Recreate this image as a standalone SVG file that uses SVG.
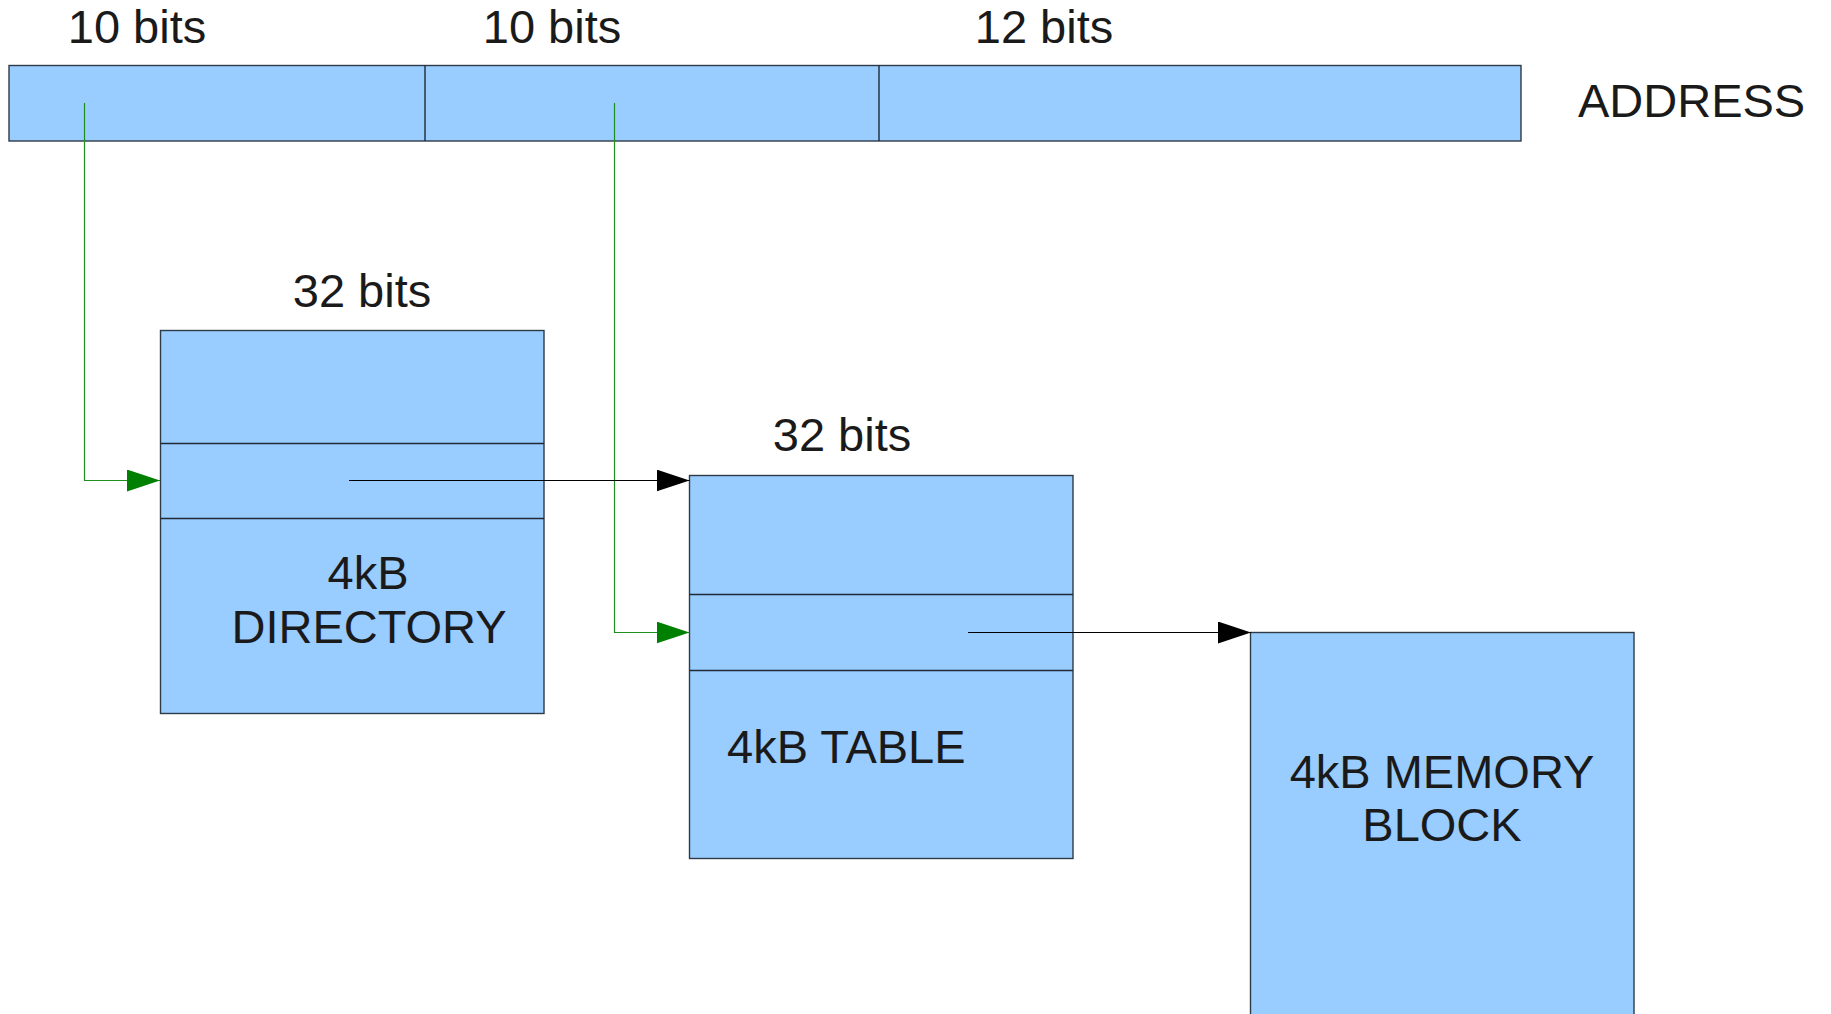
<svg xmlns="http://www.w3.org/2000/svg" width="1831" height="1014" viewBox="0 0 1831 1014">
<style>
  .box { fill: #99ccff; stroke: #2e3a46; stroke-width: 1.4; }
  .div { fill: none; stroke: #1e2a36; stroke-width: 1.4; }
  .lbl { font-family: "Liberation Sans", Arial, sans-serif; font-size: 47px; fill: #1a1a1a; }
  .mid { text-anchor: middle; }
  .g { fill: none; stroke: #1f8f1f; stroke-width: 1.2; }
  .k { fill: none; stroke: #000000; stroke-width: 1.2; }
</style>
<defs>
  <marker id="ag" markerUnits="userSpaceOnUse" markerWidth="34" markerHeight="23" refX="33" refY="11" orient="auto">
    <path d="M0,0 L33,11 L0,22 z" fill="#008000"/>
  </marker>
  <marker id="ak" markerUnits="userSpaceOnUse" markerWidth="34" markerHeight="23" refX="33" refY="11" orient="auto">
    <path d="M0,0 L33,11 L0,22 z" fill="#000000"/>
  </marker>
</defs>
<rect width="1831" height="1014" fill="#ffffff"/>

<g id="address">
  <rect class="box" x="9" y="65.5" width="1512" height="75.5"/>
  <line class="div" x1="425" y1="65.5" x2="425" y2="141"/>
  <line class="div" x1="879" y1="65.5" x2="879" y2="141"/>
  <text class="lbl mid" x="137" y="43">10 bits</text>
  <text class="lbl mid" x="552" y="43">10 bits</text>
  <text class="lbl mid" x="1044" y="43">12 bits</text>
  <text class="lbl" x="1578" y="117">ADDRESS</text>
</g>

<g id="directory">
  <text class="lbl mid" x="362" y="307">32 bits</text>
  <rect class="box" x="160.5" y="330.5" width="383.5" height="383"/>
  <line class="div" x1="160.5" y1="443.5" x2="544" y2="443.5"/>
  <line class="div" x1="160.5" y1="518.5" x2="544" y2="518.5"/>
  <text class="lbl mid" x="368" y="589">4kB</text>
  <text class="lbl mid" x="369" y="643">DIRECTORY</text>
</g>

<g id="table">
  <text class="lbl mid" x="842" y="451">32 bits</text>
  <rect class="box" x="689.5" y="475.5" width="383.5" height="383"/>
  <line class="div" x1="689.5" y1="594.5" x2="1073" y2="594.5"/>
  <line class="div" x1="689.5" y1="670.5" x2="1073" y2="670.5"/>
  <text class="lbl" x="727" y="763">4kB TABLE</text>
</g>

<g id="memory">
  <rect class="box" x="1250.5" y="632.5" width="383.5" height="400"/>
  <text class="lbl mid" x="1442" y="788">4kB MEMORY</text>
  <text class="lbl mid" x="1442" y="841">BLOCK</text>
</g>

<g id="connectors">
  <polyline class="g" points="84.5,103 84.5,480.5 160,480.5" marker-end="url(#ag)"/>
  <polyline class="g" points="614.5,103 614.5,632.5 689.5,632.5" marker-end="url(#ag)"/>
  <line class="k" x1="349" y1="480.5" x2="689.5" y2="480.5" marker-end="url(#ak)"/>
  <line class="k" x1="968" y1="632.5" x2="1251" y2="632.5" marker-end="url(#ak)"/>
</g>
</svg>
